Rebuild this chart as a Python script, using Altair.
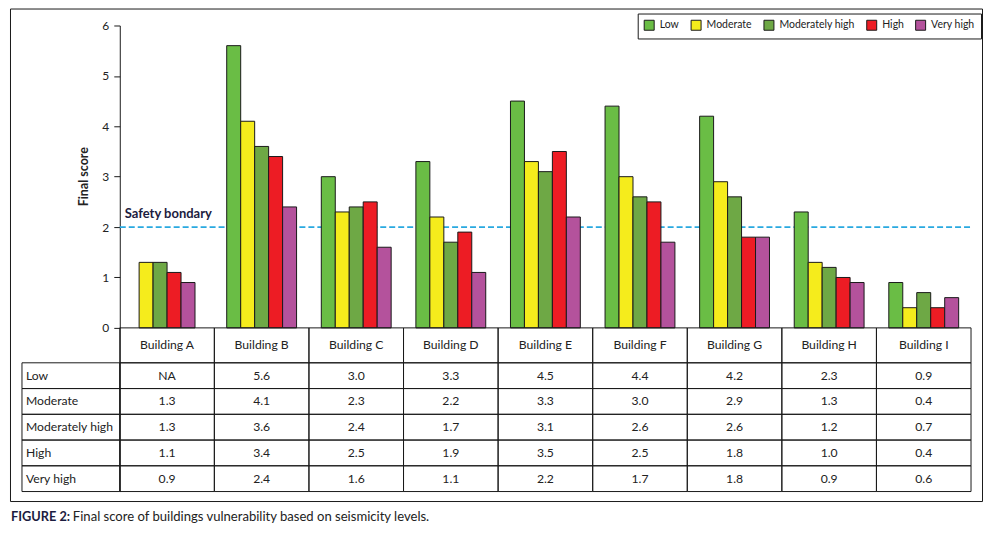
import altair as alt
import pandas as pd

# ---------------- data ----------------
buildings = ["Building A", "Building B", "Building C", "Building D", "Building E",
             "Building F", "Building G", "Building H", "Building  I"]
levels = ["Low", "Moderate", "Moderately high", "High", "Very high"]
low = [None, 5.6, 3.0, 3.3, 4.5, 4.4, 4.2, 2.3, 0.9]
moderate = [1.3, 4.1, 2.3, 2.2, 3.3, 3.0, 2.9, 1.3, 0.4]
moderately_high = [1.3, 3.6, 2.4, 1.7, 3.1, 2.6, 2.6, 1.2, 0.7]
high = [1.1, 3.4, 2.5, 1.9, 3.5, 2.5, 1.8, 1.0, 0.4]
very_high = [0.9, 2.4, 1.6, 1.1, 2.2, 1.7, 1.8, 0.9, 0.6]
colors = ["#6abd45", "#f5ec1c", "#6ea845", "#ed1c24", "#b4529c"]
safety_value = 2.0
safety_label = "Safety bondary"
y_ticks = [0, 1, 2, 3, 4, 5, 6]
y_title = "Final score"
caption_bold = "FIGURE 2:"
caption_text = "Final score of buildings vulnerability based on seismicity levels."

series = [low, moderate, moderately_high, high, very_high]

# ---------------- layout (pixels -> data units) ----------------
W = 853          # plot width (9 building columns)
HB = 303         # bar area height (0..6)
HT = 164         # table height below the baseline
UNIT = HB / 6.0
COLW = W / 9.0
LABEL_W = 98 / COLW
HEADER_H = 35 / UNIT
ROW_H = (HT - 35) / 5 / UNIT
YMIN = -HT / UNIT
BAR_W = 14 / COLW

TEXT = "#222222"
LINE = "#1a1a1a"
FONT = "Lato"

# bars
bar_rows = []
for i, b in enumerate(buildings):
    vals = [(lv, series[k][i]) for k, lv in enumerate(levels) if series[k][i] is not None]
    n = len(vals)
    start = i + (1 - n * BAR_W) / 2
    for j, (lv, v) in enumerate(vals):
        bar_rows.append(dict(x=start + j * BAR_W, x2=start + (j + 1) * BAR_W,
                             y=0.0, y2=v, level=lv, building=b))
bars_df = pd.DataFrame(bar_rows)

# table cells
cells = []
for i, b in enumerate(buildings):
    cells.append(dict(x=i, x2=i + 1, y=0.0, y2=-HEADER_H, text=b, kind="center"))
for r, lv in enumerate(levels):
    ytop = -HEADER_H - r * ROW_H
    ybot = ytop - ROW_H
    cells.append(dict(x=-LABEL_W, x2=0, y=ytop, y2=ybot, text=lv, kind="label"))
    for i in range(len(buildings)):
        v = series[r][i]
        cells.append(dict(x=i, x2=i + 1, y=ytop, y2=ybot,
                          text="NA" if v is None else f"{v:.1f}", kind="center"))
cells_df = pd.DataFrame(cells)
cells_df["xc"] = (cells_df["x"] + cells_df["x2"]) / 2
cells_df["yc"] = (cells_df["y"] + cells_df["y2"]) / 2

safety_df = pd.DataFrame([dict(x=0, x2=len(buildings), y=safety_value,
                               lx=5 / COLW, text=safety_label)])

xs = alt.Scale(domain=[0, len(buildings)], nice=False, zero=False)
ys = alt.Scale(domain=[YMIN, 6], nice=False, zero=False)
yaxis = alt.Axis(values=y_ticks, title=y_title, grid=False, tickSize=6,
                 labelPadding=5, labelFontSize=12, labelFont=FONT, labelColor=TEXT,
                 domainColor=LINE, tickColor=LINE, titleFont=FONT, titleFontSize=12.5,
                 titleFontWeight="bold", titleColor=TEXT, titleX=-36, titleY=151,
                 titleBaseline="middle")


def X(f):
    return alt.X(f, type="quantitative", scale=xs, axis=None)


def Y(f):
    return alt.Y(f, type="quantitative", scale=ys, axis=yaxis)


# frame around the whole figure
frame = alt.Chart(pd.DataFrame({"a": [0]})).mark_rect(
    fillOpacity=0, stroke=LINE, strokeWidth=1
).encode(x=alt.value(-109.5), x2=alt.value(864.5), y=alt.value(-16.5), y2=alt.value(477))

safety_rule = alt.Chart(safety_df).mark_rule(
    color="#29a9e0", strokeWidth=1.8, strokeDash=[6, 3]
).encode(x=X("x"), x2="x2", y=Y("y"))

safety_text = alt.Chart(safety_df).mark_text(
    align="left", baseline="alphabetic", dy=-9, fontSize=13, fontWeight="bold",
    font=FONT, color="#1c1c40"
).encode(x=X("lx"), y=Y("y"), text="text:N")

bars = alt.Chart(bars_df).mark_rect(stroke=LINE, strokeWidth=1).encode(
    x=X("x"), x2="x2", y=Y("y"), y2="y2",
    color=alt.Color("level:N", scale=alt.Scale(domain=levels, range=colors),
                    legend=alt.Legend(title=None, orient="none", legendX=519, legendY=-12,
                                      direction="horizontal", symbolType="square",
                                      symbolSize=100, symbolStrokeColor=LINE,
                                      symbolStrokeWidth=1, labelFontSize=10.5,
                                      labelFont=FONT, labelColor=TEXT, columnPadding=9,
                                      padding=6, strokeColor=LINE, labelLimit=200,
                                      labelOffset=5)),
)

cell_rects = alt.Chart(cells_df).mark_rect(
    fillOpacity=0, stroke=LINE, strokeWidth=1
).encode(x=X("x"), x2="x2", y=Y("y"), y2="y2")

center_text = alt.Chart(cells_df).transform_filter(
    alt.datum.kind == "center"
).mark_text(align="center", baseline="middle", fontSize=12.2, font=FONT, color=TEXT).encode(
    x=X("xc"), y=Y("yc"), text="text:N")

label_text = alt.Chart(cells_df).transform_filter(
    alt.datum.kind == "label"
).mark_text(align="left", baseline="middle", dx=4, fontSize=12.2, font=FONT, color=TEXT).encode(
    x=X("x"), y=Y("yc"), text="text:N")

cap_df = pd.DataFrame([dict(b=caption_bold, t=caption_text)])
cap1 = alt.Chart(cap_df).mark_text(
    align="left", baseline="alphabetic", fontSize=12.8, fontWeight="bold", font=FONT,
    color="#1c1c40"
).encode(x=alt.value(-109), y=alt.value(497), text="b:N")
cap2 = alt.Chart(cap_df).mark_text(
    align="left", baseline="alphabetic", fontSize=13.1, font=FONT, color=TEXT
).encode(x=alt.value(-47), y=alt.value(497), text="t:N")

chart = alt.layer(
    frame, safety_rule, safety_text, bars, cell_rects, center_text, label_text, cap1, cap2
).properties(
    width=W, height=HB + HT,
    autosize=alt.AutoSizeParams(type="none"),
    padding={"left": 112, "top": 17, "right": 12, "bottom": 36},
).configure_view(stroke=None)

chart.save("out.html", embed_options={"renderer": "svg", "actions": False})
